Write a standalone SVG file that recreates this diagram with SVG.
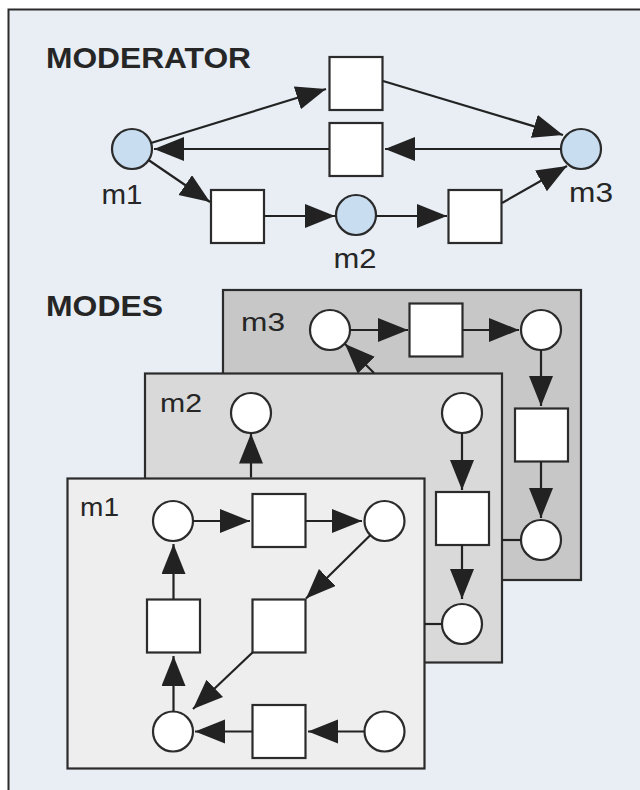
<svg xmlns="http://www.w3.org/2000/svg" width="640" height="790" viewBox="0 0 640 790">
<style>
.frame{fill:#e8eef4;stroke:#2b2b2b;stroke-width:2}
.title{font-family:"Liberation Sans",Arial,sans-serif;font-weight:bold;font-size:30px;fill:#262626}
.lbl{font-family:"Liberation Sans",Arial,sans-serif;font-size:28px;fill:#262626;text-anchor:middle}
.plbl{font-family:"Liberation Sans",Arial,sans-serif;font-size:26px;fill:#262626;text-anchor:middle}
.mod{fill:#c9ddf1;stroke:#2b2b2b;stroke-width:2.2}
.node{fill:#ffffff;stroke:#2b2b2b;stroke-width:2.2}
.panel{stroke:#2b2b2b;stroke-width:2.2}
.edge{stroke:#222;stroke-width:2.2;fill:none;marker-end:url(#ah)}
.plain{stroke:#222;stroke-width:2.2;fill:none}
</style>
<defs>
<marker id="ah" markerUnits="userSpaceOnUse" markerWidth="32" markerHeight="26" refX="30" refY="12" orient="auto">
<path d="M0,0 L30,12 L0,24 z" fill="#222"/>
</marker>
</defs>
<rect x="0" y="0" width="640" height="790" fill="#ffffff"/>
<rect class="frame" x="8.5" y="9.5" width="700" height="900"/>
<text class="title" x="46" y="68" textLength="205" lengthAdjust="spacingAndGlyphs">MODERATOR</text>
<text class="title" x="46" y="316" textLength="117" lengthAdjust="spacingAndGlyphs">MODES</text>

<g id="moderator-nodes">
<g id="mod-m1"><circle class="mod" cx="132" cy="149" r="20"/><text class="lbl" x="122" y="204" textLength="41" lengthAdjust="spacingAndGlyphs">m1</text></g>
<g id="mod-m2"><circle class="mod" cx="356" cy="215" r="20"/><text class="lbl" x="355" y="268" textLength="43" lengthAdjust="spacingAndGlyphs">m2</text></g>
<g id="mod-m3"><circle class="mod" cx="581" cy="149" r="20"/><text class="lbl" x="591" y="202" textLength="44" lengthAdjust="spacingAndGlyphs">m3</text></g>
<g id="mod-t1"><rect class="node" x="329.5" y="57" width="53" height="53"/></g>
<g id="mod-t2"><rect class="node" x="329.5" y="123" width="53" height="53"/></g>
<g id="mod-t3"><rect class="node" x="211" y="190" width="53" height="53"/></g>
<g id="mod-t4"><rect class="node" x="448.5" y="190" width="53" height="53"/></g>
</g>

<g id="panel-m3"><rect class="panel" x="223" y="290" width="358" height="290" fill="#c7c7c7"/><text class="plbl" x="263" y="331" textLength="44" lengthAdjust="spacingAndGlyphs">m3</text></g>
<g id="panel-m2"><rect class="panel" x="145" y="373.5" width="357" height="289" fill="#d9d9d9"/><text class="plbl" x="181" y="412" textLength="42" lengthAdjust="spacingAndGlyphs">m2</text></g>
<g id="panel-m1"><rect class="panel" x="67.5" y="478.5" width="357" height="290" fill="#eeeeee"/><text class="plbl" x="99.5" y="516" textLength="39" lengthAdjust="spacingAndGlyphs">m1</text></g>

<g id="m3-nodes">
<g id="m3-p1"><circle class="node" cx="330" cy="330" r="20"/></g>
<g id="m3-t1"><rect class="node" x="409.5" y="303.5" width="53" height="53"/></g>
<g id="m3-p2"><circle class="node" cx="541" cy="330" r="20"/></g>
<g id="m3-t2"><rect class="node" x="515" y="408.5" width="53" height="53"/></g>
<g id="m3-p3"><circle class="node" cx="541" cy="540" r="20"/></g>
</g>
<g id="m2-nodes">
<g id="m2-p1"><circle class="node" cx="251" cy="413" r="20"/></g>
<g id="m2-p2"><circle class="node" cx="462" cy="413" r="20"/></g>
<g id="m2-t1"><rect class="node" x="436" y="492" width="53" height="53"/></g>
<g id="m2-p3"><circle class="node" cx="462" cy="624" r="20"/></g>
</g>
<g id="m1-nodes">
<g id="m1-p1"><circle class="node" cx="173" cy="521" r="20"/></g>
<g id="m1-t1"><rect class="node" x="252.5" y="494" width="53" height="53"/></g>
<g id="m1-p2"><circle class="node" cx="384.5" cy="521" r="20"/></g>
<g id="m1-t2"><rect class="node" x="147" y="599.5" width="53" height="53"/></g>
<g id="m1-t3"><rect class="node" x="252.5" y="599.5" width="53" height="53"/></g>
<g id="m1-p3"><circle class="node" cx="173" cy="731.5" r="20"/></g>
<g id="m1-t4"><rect class="node" x="252.5" y="705" width="53" height="53"/></g>
<g id="m1-p4"><circle class="node" cx="384.5" cy="731.5" r="20"/></g>
</g>

<g id="connectors">
<path class="edge" d="M151,143 L326,89"/>
<path class="edge" d="M383,81 L563,135"/>
<path class="edge" d="M561,149 L385,149"/>
<path class="edge" d="M329,149 L154,149"/>
<path class="edge" d="M148.5,160 L210,202"/>
<path class="edge" d="M264,216 L335,216"/>
<path class="edge" d="M376,216 L447,216"/>
<path class="edge" d="M502,203 L567,166"/>

<path class="edge" d="M350,330 L408,330"/>
<path class="edge" d="M462,330 L519,330"/>
<path class="edge" d="M541,350 L541,406"/>
<path class="edge" d="M541,461.5 L541,518"/>
<path class="plain" d="M521,540 L502,540"/>
<path class="edge" d="M374,373 L345,344"/>

<path class="edge" d="M251,477.5 L251,433.5"/>
<path class="edge" d="M462,433 L462,490"/>
<path class="edge" d="M462,545 L462,599"/>
<path class="plain" d="M442,624 L424.5,624"/>

<path class="edge" d="M193,521 L250,521"/>
<path class="edge" d="M305.5,521 L362,521"/>
<path class="edge" d="M370.5,535 L306,598.5"/>
<path class="edge" d="M252.5,652.5 L193,709"/>
<path class="edge" d="M173.5,599.5 L173.5,544"/>
<path class="edge" d="M173.5,711.5 L173.5,656"/>
<path class="edge" d="M252.5,731.5 L195,731.5"/>
<path class="edge" d="M364.5,731.5 L308,731.5"/>
</g>
</svg>
